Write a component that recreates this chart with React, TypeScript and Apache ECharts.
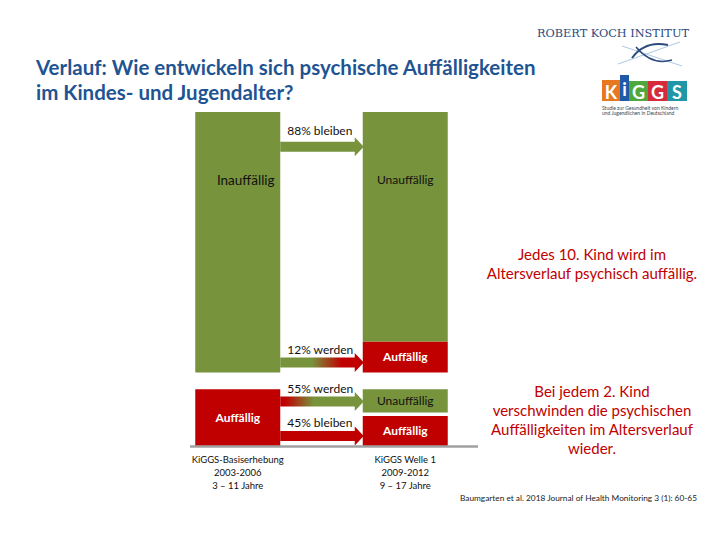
import React, { useEffect, useRef } from "react";
import * as echarts from "echarts";

// ---- data ----
const categories = ["KiGGS-Basiserhebung", "KiGGS Welle 1"];
const periods = ["2003-2006", "2009-2012"];
const ages = ["3 – 11 Jahre", "9 – 17 Jahre"];

// stacked shares (bottom to top), both columns sum to 100
const auffaelligUnten = [17, 9];
const lueckeUnten = [5, 1];
const unauffaelligGeworden = [0, 7];
const lueckeOben = [0, 5];
const auffaelligGeworden = [0, 9.3];
const unauffaelligOben = [78, 68.7];

const arrowLabels = ["88% bleiben", "12% werden", "55% werden", "45% bleiben"];
const arrowLevels = [89.6, 25, 13.3, 3.0];

const noteTop = ["Jedes 10. Kind wird im", "Altersverlauf psychisch auffällig."];
const noteBottom = [
  "Bei jedem 2. Kind",
  "verschwinden die psychischen",
  "Auffälligkeiten im Altersverlauf",
  "wieder.",
];
const citation = "Baumgarten et al. 2018 Journal of Health Monitoring 3 (1): 60-65";

const GREEN = "#77933C";
const RED = "#C00000";
const TITLE = "#1F5493";
const FONT = "Lato";

export default function App() {
  const ref = useRef<HTMLDivElement>(null);
  useEffect(() => {
    if (!ref.current) return;
    const chart = echarts.init(ref.current, undefined, { renderer: "svg" });

    const lbl = (text: string, color: string, extra: any = {}) => ({
      show: true,
      position: "inside",
      formatter: text,
      color,
      fontFamily: FONT,
      fontSize: 12,
      ...extra,
    });
    const hidden = { show: false };

    const mk = (
      name: string,
      values: number[],
      color: string,
      labels: any[]
    ) => ({
      name,
      type: "bar",
      stack: "s",
      barWidth: 85,
      itemStyle: { color },
      emphasis: { disabled: true },
      data: values.map((v, i) => ({ value: v, label: labels[i] })),
    });

    chart.setOption({
      animation: false,
      grid: { left: 154, right: 231, top: 112, bottom: 94 },
      xAxis: {
        type: "category",
        data: categories,
        axisLine: { show: false },
        axisTick: { show: false },
        axisLabel: {
          margin: 7,
          fontFamily: FONT,
          fontSize: 9.5,
          lineHeight: 13,
          color: "#111",
          formatter: (v: string, i: number) => `${v}\n${periods[i]}\n${ages[i]}`,
        },
      },
      yAxis: { type: "value", min: 0, max: 100, show: false, splitLine: { show: false } },
      series: [
        mk("Auffällig", auffaelligUnten, RED, [
          lbl("Auffällig", "#fff", { fontWeight: "bold" }),
          lbl("Auffällig", "#fff", { fontWeight: "bold" }),
        ]),
        mk("gap1", lueckeUnten, "rgba(0,0,0,0)", [hidden, hidden]),
        mk("Unauffällig geworden", unauffaelligGeworden, GREEN, [
          hidden,
          lbl("Unauffällig", "#111"),
        ]),
        mk("gap2", lueckeOben, "rgba(0,0,0,0)", [hidden, hidden]),
        mk("Auffällig geworden", auffaelligGeworden, RED, [
          hidden,
          lbl("Auffällig", "#fff", { fontWeight: "bold" }),
        ]),
        mk("Unauffällig", unauffaelligOben, GREEN, [
          lbl("Inauffällig", "#111", {
            position: "insideTop",
            distance: 61,
            fontSize: 13.5,
            offset: [8, 0],
          }),
          lbl("Unauffällig", "#111", { position: "insideTop", distance: 61 }),
        ]),
      ],
    });

    // arrows between the columns, positioned via the chart's own scales
    const half = 85 / 2;
    const leftX = (chart.convertToPixel({ gridIndex: 0 }, [0, 0]) as number[])[0] + half;
    const rightX = (chart.convertToPixel({ gridIndex: 0 }, [1, 0]) as number[])[0] - half;
    const fills: any[] = [
      GREEN,
      {
        type: "linear", x: 0, y: 0, x2: 1, y2: 0,
        colorStops: [
          { offset: 0, color: GREEN },
          { offset: 0.38, color: GREEN },
          { offset: 0.74, color: RED },
          { offset: 1, color: RED },
        ],
      },
      {
        type: "linear", x: 0, y: 0, x2: 1, y2: 0,
        colorStops: [
          { offset: 0, color: RED },
          { offset: 0.06, color: RED },
          { offset: 0.4, color: GREEN },
          { offset: 1, color: GREEN },
        ],
      },
      RED,
    ];
    const arrowEls: any[] = [];
    arrowLevels.forEach((lv, i) => {
      const y = (chart.convertToPixel({ gridIndex: 0 }, [0, lv]) as number[])[1];
      const x0 = leftX;
      const x1 = rightX + 1;
      const xb = x1 - 9;
      arrowEls.push({
        type: "polygon",
        z: 10,
        shape: {
          points: [
            [x0, y - 5],
            [xb, y - 5],
            [xb, y - 9.5],
            [x1, y],
            [xb, y + 9.5],
            [xb, y + 5],
            [x0, y + 5],
          ],
        },
        style: { fill: fills[i] },
      });
      arrowEls.push({
        type: "text",
        z: 10,
        style: {
          text: arrowLabels[i],
          x: leftX + 7,
          y: y - (i === 0 ? 16.5 : 13.5),
          textAlign: "left",
          textVerticalAlign: "middle",
          font: `12px ${FONT}`,
          fill: "#111",
        },
      });
    });

    const kiggs = [
      { t: "K", x: 602, y: 80, w: 18, h: 21, c: "#E87722" },
      { t: "i", x: 620, y: 75, w: 9, h: 26, c: "#1E5AA8" },
      { t: "G", x: 629, y: 81, w: 19, h: 20, c: "#4FA83D" },
      { t: "G", x: 648, y: 81, w: 19, h: 20, c: "#D52B3A" },
      { t: "S", x: 667, y: 81, w: 20, h: 20, c: "#2196A6" },
    ];
    const kiggsEls: any[] = [];
    kiggs.forEach((k) => {
      kiggsEls.push({ type: "rect", shape: { x: k.x, y: k.y, width: k.w, height: k.h }, style: { fill: k.c } });
      kiggsEls.push({
        type: "text",
        style: {
          text: k.t,
          x: k.x + k.w / 2,
          y: k.y + k.h / 2 + 1,
          textAlign: "center",
          textVerticalAlign: "middle",
          font: `bold 18px ${FONT}`,
          fill: "#fff",
        },
      });
    });

    chart.setOption({
      graphic: [
        {
          type: "text",
          style: {
            text: "Verlauf: Wie entwickeln sich psychische Auffälligkeiten\nim Kindes- und Jugendalter?",
            x: 36,
            y: 55,
            textVerticalAlign: "top",
            font: `bold 20.5px ${FONT}`,
            lineHeight: 24.5,
            fill: TITLE,
          },
        },
        {
          type: "text",
          style: {
            text: "ROBERT KOCH INSTITUT",
            x: 613,
            y: 33,
            textAlign: "center",
            textVerticalAlign: "middle",
            font: '11.3px "DejaVu Serif"',
            fill: "#2B4A7E",
          },
        },
        // fish mark
        { type: "line", shape: { x1: 618, y1: 64, x2: 680, y2: 42 }, style: { stroke: "#B7CDE6", lineWidth: 1.2 } },
        { type: "line", shape: { x1: 622, y1: 46, x2: 682, y2: 66 }, style: { stroke: "#B7CDE6", lineWidth: 1.2 } },
        {
          type: "bezierCurve",
          shape: { x1: 632, y1: 58, cpx1: 645, cpy1: 40, x2: 668, y2: 45 },
          style: { stroke: "#2B4A7E", lineWidth: 2, fill: "none" },
        },
        {
          type: "bezierCurve",
          shape: { x1: 636, y1: 47, cpx1: 652, cpy1: 66, x2: 672, y2: 60 },
          style: { stroke: "#2B4A7E", lineWidth: 1.5, fill: "none" },
        },
        ...kiggsEls,
        {
          type: "text",
          style: {
            text: "Studie zur Gesundheit von Kindern\nund Jugendlichen in Deutschland",
            x: 602,
            y: 105,
            textVerticalAlign: "top",
            font: `5px ${FONT}`,
            lineHeight: 5.5,
            fill: "#444",
          },
        },
        {
          type: "line",
          z: 20,
          shape: { x1: 190, y1: 446.5, x2: 478, y2: 446.5 },
          style: { stroke: "#A0A0A0", lineWidth: 2.5 },
        },
        ...arrowEls,
        {
          type: "text",
          style: {
            text: noteTop.join("\n"),
            x: 592,
            y: 244,
            textAlign: "center",
            textVerticalAlign: "top",
            font: `15px ${FONT}`,
            lineHeight: 19,
            fill: RED,
          },
        },
        {
          type: "text",
          style: {
            text: noteBottom.join("\n"),
            x: 592,
            y: 381,
            textAlign: "center",
            textVerticalAlign: "top",
            font: `15px ${FONT}`,
            lineHeight: 19,
            fill: RED,
          },
        },
        {
          type: "text",
          style: {
            text: citation,
            x: 460,
            y: 498,
            textVerticalAlign: "middle",
            font: `8.3px ${FONT}`,
            fill: "#222",
          },
        },
      ],
    });

    return () => chart.dispose();
  }, []);

  return (
    <div
      ref={ref}
      style={{ position: "fixed", left: 0, top: 0, width: 720, height: 540, background: "#fff" }}
    />
  );
}
